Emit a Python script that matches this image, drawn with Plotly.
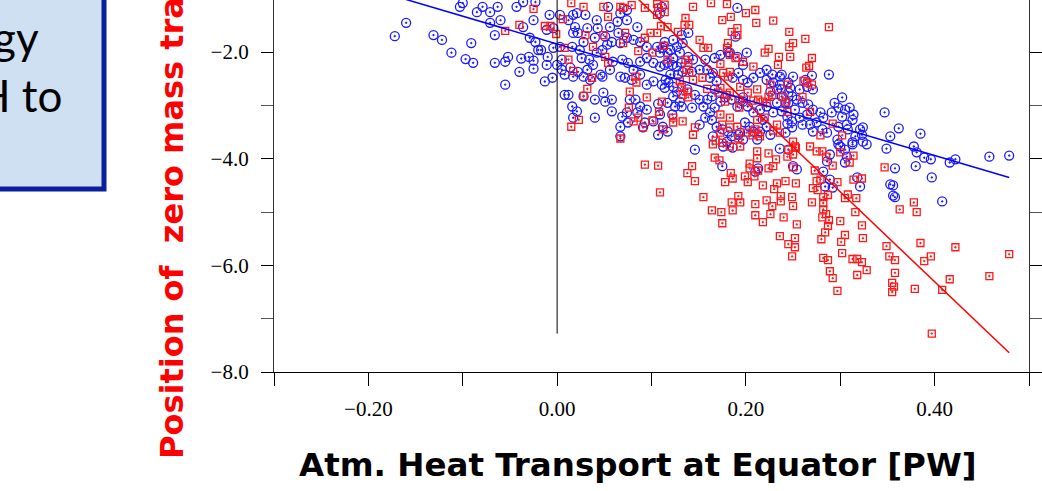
import plotly.graph_objects as go

# ---------------- data ----------------
blue_points = [
    (-0.172,-1.70),(-0.160,-1.45),(-0.131,-1.68),(-0.122,-1.77),(-0.112,-2.01),(-0.097,-2.13),(-0.089,-2.20),(-0.091,-1.83),(-0.103,-1.15),(-0.100,-1.08),
    (-0.085,-1.25),(-0.079,-1.15),(-0.071,-1.25),(-0.063,-1.15),(-0.066,-1.68),(-0.071,-1.45),(-0.060,-1.40),(-0.055,-2.61),(-0.066,-2.20),(-0.055,-2.18),
    (-0.052,-2.09),(-0.040,-2.37),(-0.038,-2.12),(-0.025,-2.31),(-0.025,-2.16),(-0.030,-2.09),(-0.020,-1.96),(-0.029,-1.73),(-0.023,-1.81),(-0.025,-1.40),
    (-0.036,-1.53),(-0.043,-1.15),(-0.036,-1.06),(-0.023,-1.06),
    (-0.008,-1.30),(0.003,-1.30),(0.012,-1.40),(0.017,-1.30),(0.021,-1.27),(0.030,-1.30),(0.042,-1.40),(0.054,-1.15),(0.067,-1.27),(0.074,-1.21),
    (0.085,-1.53),(0.074,-1.40),(0.064,-1.43),(-0.011,-1.58),(-0.004,-1.55),(0.019,-1.53),(0.017,-1.64),(0.022,-1.64),(0.032,-1.55),(0.043,-1.55),
    (0.056,-1.53),(0.065,-1.64),(0.051,-1.71),(0.040,-1.73),(0.028,-1.81),(-0.017,-1.96),(-0.010,-2.09),(-0.004,-1.92),(0.003,-1.90),(0.005,-2.14),
    (0.016,-1.90),(0.024,-1.96),(0.026,-2.11),(0.034,-2.14),(0.042,-2.01),(0.048,-1.96),(0.053,-1.86),(0.058,-1.81),(0.067,-1.83),(0.074,-1.73),
    (0.081,-1.77),(0.088,-1.81),(0.095,-1.90),(-0.011,-2.24),(0.000,-2.24),(0.005,-2.33),(0.014,-2.29),(0.022,-2.37),(0.032,-2.33),(0.038,-2.24),
    (0.046,-2.42),(0.056,-2.33),(0.059,-2.18),(0.069,-2.14),(0.075,-2.20),(0.081,-2.33),(0.088,-2.18),(0.095,-2.11),(0.102,-2.20),(0.109,-2.27),
    (0.117,-2.20),(0.109,-2.01),(0.117,-2.01),(0.106,-1.90),(-0.013,-2.55),(-0.005,-2.48),(0.008,-2.42),(0.017,-2.46),(0.028,-2.46),(0.035,-2.52),
    (0.048,-2.46),(0.067,-2.46),(0.072,-2.48),(0.079,-2.52),(0.088,-2.42),(0.095,-2.61),(0.102,-2.55),(0.111,-2.61),(0.115,-2.52),(0.008,-2.80),
    (0.012,-2.80),(0.028,-2.83),(0.040,-2.89),(0.049,-2.76),(0.051,-2.93),(0.058,-2.89),(0.083,-2.89),(0.088,-3.02),(0.016,-3.02),(0.021,-3.11),
    (0.017,-3.23),(0.058,-3.11),(0.069,-3.21),(0.074,-3.13),(0.075,-3.32),(0.085,-3.13),(0.067,-3.40),(0.040,-3.23),(0.093,-3.32),(0.102,-3.30),
    (0.109,-3.17),(0.107,-3.55),(0.112,-3.40),(0.067,-3.58),(0.095,-3.08),(0.107,-2.97),(0.077,-2.89),(0.091,-3.41),
    (0.111,-1.15),(0.109,-1.27),(0.139,-1.64),(0.132,-1.68),(0.123,-1.77),(0.114,-1.81),(0.112,-1.92),(0.120,-1.96),(0.127,-1.90),(0.133,-1.83),
    (0.130,-2.01),(0.123,-2.11),(0.114,-2.24),(0.122,-2.24),(0.127,-2.27),(0.132,-2.20),(0.139,-2.09),(0.144,-2.14),(0.151,-2.33),(0.143,-2.37),
    (0.133,-2.37),(0.128,-2.42),(0.120,-2.42),(0.118,-2.57),(0.123,-2.65),(0.114,-2.67),(0.127,-2.74),(0.138,-2.70),(0.146,-2.80),(0.151,-2.89),
    (0.123,-2.83),(0.130,-2.93),(0.117,-2.95),(0.125,-3.02),(0.132,-3.02),(0.143,-3.04),(0.155,-3.02),(0.159,-2.89),(0.164,-2.83),(0.167,-2.70),
    (0.169,-2.55),(0.162,-2.48),(0.159,-2.33),(0.165,-2.39),(0.157,-2.14),(0.167,-2.11),(0.173,-2.05),(0.181,-2.00),(0.191,-2.09),(0.201,-2.01),
    (0.197,-2.24),(0.192,-2.39),(0.186,-2.48),(0.197,-2.52),(0.202,-2.57),(0.208,-2.48),(0.215,-2.39),(0.222,-2.33),(0.228,-2.42),(0.236,-2.46),
    (0.229,-2.57),(0.233,-2.70),(0.226,-2.74),(0.238,-2.83),(0.245,-2.76),(0.242,-2.95),(0.233,-2.95),(0.222,-3.02),(0.215,-3.08),(0.208,-3.13),
    (0.202,-3.02),(0.197,-2.93),(0.191,-3.02),(0.185,-2.89),(0.178,-2.85),(0.173,-2.93),(0.167,-3.04),(0.162,-3.13),(0.157,-3.23),(0.164,-3.27),
    (0.169,-3.40),(0.175,-3.45),(0.181,-3.49),(0.192,-3.55),(0.199,-3.32),(0.204,-3.40),(0.208,-3.49),(0.215,-3.49),(0.222,-3.40),(0.226,-3.55),
    (0.212,-3.64),(0.197,-3.64),(0.229,-3.13),(0.218,-3.27),(0.151,-3.36),(0.165,-3.58),(0.117,-3.49),(0.122,-3.17),(0.191,-1.17),(0.189,-1.71),
    (0.197,-2.85),(0.146,-3.83),(0.175,-4.14),(0.180,-3.68),(0.176,-3.77),(0.186,-3.79),(0.185,-3.58),(0.194,-3.51),(0.210,-4.24),(0.213,-4.18),
    (0.236,-3.81),(0.245,-3.83),(0.250,-4.14),(0.254,-4.20),(0.183,-2.01),
    (0.288,-2.42),(0.250,-2.46),(0.238,-2.42),(0.270,-2.44),(0.263,-2.52),(0.271,-2.70),(0.265,-2.65),(0.257,-2.70),(0.247,-2.67),(0.238,-2.70),
    (0.249,-2.83),(0.254,-2.89),(0.245,-2.95),(0.252,-3.08),(0.238,-3.11),(0.244,-3.21),(0.249,-3.30),(0.257,-3.23),(0.265,-3.17),(0.266,-2.98),
    (0.271,-3.08),(0.279,-3.13),(0.282,-3.23),(0.275,-3.32),(0.268,-3.36),(0.271,-3.49),(0.281,-3.45),(0.286,-3.51),(0.291,-3.13),(0.294,-2.95),
    (0.302,-2.85),(0.298,-3.04),(0.305,-3.08),(0.310,-3.04),(0.314,-3.17),(0.313,-3.27),(0.307,-3.36),(0.302,-3.21),(0.308,-3.45),(0.321,-3.45),
    (0.324,-3.41),(0.323,-3.55),(0.316,-3.58),(0.313,-3.69),(0.324,-3.68),(0.328,-3.73),(0.297,-3.64),(0.298,-3.73),(0.347,-3.13),(0.362,-3.43),
    (0.353,-3.58),(0.300,-3.77),(0.305,-3.83),(0.313,-3.73),(0.289,-3.92),(0.286,-4.05),(0.282,-4.24),(0.289,-4.39),(0.292,-4.54),(0.305,-4.07),
    (0.307,-3.96),(0.318,-4.35),(0.321,-4.52),(0.353,-4.48),(0.284,-4.52),(0.298,-3.40),(0.260,-2.95),(0.260,-3.36),(0.244,-3.34),(0.249,-3.41),
    (0.242,-3.51),(0.245,-2.57),(0.222,-2.52),(0.236,-2.61),
    (0.385,-3.53),(0.349,-3.81),(0.378,-3.77),(0.381,-3.88),(0.389,-3.98),(0.396,-4.01),(0.416,-4.07),(0.422,-4.01),(0.458,-3.96),(0.479,-3.94),
    (0.358,-4.18),(0.380,-4.14),(0.397,-4.35),(0.356,-4.50),(0.356,-4.69),(0.358,-4.72),(0.408,-4.80),
]

red_points = [
    (-0.055,-1.60),(-0.040,-1.49),(-0.025,-1.19),(-0.013,-1.51),(-0.007,-1.51),(-0.001,-1.66),(0.006,-1.38),(0.008,-1.92),(0.012,-2.14),(0.017,-2.35),
    (0.015,-1.08),(0.028,-1.15),(0.030,-1.68),(0.038,-1.90),(0.037,-2.48),(0.032,-2.69),(0.028,-2.82),(0.023,-3.27),(0.015,-3.40),(0.051,-2.09),
    (0.054,-2.20),(0.049,-1.15),(0.054,-1.34),(0.049,-1.68),(0.067,-1.15),(0.070,-1.17),(0.079,-1.12),(0.072,-1.64),(0.070,-1.83),(0.083,-2.46),
    (0.084,-2.57),(0.077,-2.74),(0.076,-3.04),(0.086,-3.23),(0.081,-3.30),(0.101,-3.28),(0.067,-3.62),(0.095,-2.85),(0.093,-1.73),(0.099,-1.64),
    (0.106,-1.64),(0.086,-1.98),(0.101,-2.01),(0.093,-1.17),(0.106,-1.10),(0.107,-1.17),(0.114,-1.25),(0.106,-1.30),(0.110,-1.51),(0.117,-1.53),
    (0.113,-1.88),(0.117,-2.14),(0.091,-3.41),(0.112,-3.45),(0.108,-3.12),(0.093,-4.11),(0.107,-4.13),(0.109,-4.63),
    (0.114,-1.11),(0.144,-1.15),(0.163,-1.08),(0.180,-1.10),(0.184,-1.34),(0.200,-1.27),(0.210,-1.21),(0.211,-1.45),(0.175,-1.40),(0.136,-1.36),
    (0.135,-1.49),(0.140,-1.49),(0.128,-1.62),(0.151,-1.77),(0.160,-1.92),(0.181,-1.83),(0.180,-1.92),(0.191,-1.55),(0.191,-1.68),(0.185,-1.62),
    (0.183,-2.05),(0.189,-2.11),(0.173,-2.22),(0.183,-2.37),(0.181,-2.46),(0.176,-2.39),(0.208,-2.27),(0.224,-1.94),(0.220,-2.01),(0.235,-2.09),
    (0.234,-2.24),(0.246,-1.62),(0.246,-1.90),(0.136,-2.14),(0.139,-2.20),(0.137,-2.33),(0.140,-2.39),(0.144,-2.52),(0.154,-2.48),(0.130,-2.55),
    (0.132,-2.65),(0.159,-2.69),(0.173,-2.67),(0.183,-2.76),(0.194,-2.65),(0.180,-2.80),(0.171,-2.76),(0.192,-2.89),(0.202,-2.76),(0.212,-2.70),
    (0.213,-2.89),(0.222,-2.95),(0.208,-2.91),(0.220,-3.23),(0.212,-3.27),(0.111,-2.93),(0.123,-3.23),(0.123,-3.32),(0.133,-3.30),(0.146,-3.41),
    (0.144,-3.55),(0.173,-3.17),(0.175,-3.36),(0.183,-3.23),(0.183,-3.41),(0.191,-3.40),(0.173,-3.51),(0.201,-3.51),(0.210,-3.45),(0.215,-3.58),
    (0.233,-3.36),(0.244,-3.12),(0.138,-2.74),(0.139,-2.85),(0.197,-2.18),(0.244,-2.61),(0.226,-2.61),(0.155,-1.92),(0.228,-2.80),(0.224,-2.84),
    (0.218,-2.93),(0.229,-3.47),(0.193,-3.04),(0.178,-2.93),(0.229,-1.41),(0.133,-2.80),(0.143,-4.14),
    (0.250,-1.83),(0.263,-1.75),(0.288,-1.53),(0.247,-2.09),(0.270,-2.11),(0.267,-2.26),(0.264,-2.29),(0.261,-2.54),(0.265,-2.57),(0.270,-2.61),
    (0.239,-2.84),(0.242,-2.93),(0.260,-2.84),(0.268,-3.12),(0.292,-3.34),(0.279,-3.56),(0.302,-3.56),(0.250,-3.68),(0.252,-3.77),(0.268,-3.77),
    (0.236,-3.51),
    (0.165,-3.73),(0.168,-3.66),(0.175,-3.70),(0.183,-3.77),(0.194,-3.77),(0.192,-3.62),(0.207,-3.56),(0.213,-3.53),(0.167,-3.98),(0.172,-4.03),
    (0.184,-4.27),(0.186,-4.37),(0.178,-4.44),(0.212,-3.86),(0.212,-3.99),(0.224,-3.90),(0.232,-4.01),(0.229,-4.14),(0.224,-4.18),(0.204,-4.09),
    (0.204,-4.18),(0.199,-4.33),(0.202,-4.44),(0.209,-4.33),(0.213,-4.22),(0.138,-4.27),(0.146,-4.42),(0.155,-4.72),(0.164,-4.97),(0.174,-5.00),
    (0.175,-5.21),(0.185,-4.82),(0.192,-4.70),(0.194,-4.82),(0.186,-4.97),(0.210,-4.85),(0.210,-5.06),(0.218,-5.19),(0.222,-4.78),(0.228,-4.89),
    (0.226,-5.04),(0.218,-4.50),(0.230,-4.57),(0.233,-4.46),(0.242,-4.42),(0.253,-4.46),(0.237,-4.70),(0.237,-4.80),(0.249,-4.72),(0.250,-4.89),
    (0.240,-5.10),(0.254,-5.23),(0.236,-5.45),(0.245,-5.60),(0.252,-5.66),(0.252,-5.49),(0.249,-5.83),(0.250,-4.16),(0.253,-3.79),(0.244,-3.96),
    (0.245,-3.83),(0.250,-3.92),(0.275,-3.86),(0.281,-3.86),(0.285,-3.96),(0.292,-4.13),(0.273,-4.22),(0.275,-4.42),(0.279,-4.39),(0.271,-4.55),
    (0.270,-4.82),(0.276,-4.59),(0.282,-4.72),(0.282,-4.83),(0.282,-4.95),(0.281,-5.10),(0.287,-4.68),(0.285,-5.04),(0.288,-5.15),(0.287,-5.26),
    (0.284,-5.38),(0.280,-5.51),(0.300,-5.17),(0.305,-5.43),(0.301,-5.56),(0.302,-5.77),(0.282,-5.86),(0.287,-5.90),(0.289,-6.11),(0.292,-6.24),
    (0.297,-6.48),(0.297,-4.44),(0.308,-4.67),(0.305,-4.74),(0.317,-4.74),(0.316,-5.00),(0.314,-4.39),(0.323,-4.37),(0.300,-3.88),(0.310,-4.07),
    (0.314,-3.94),(0.323,-5.25),(0.324,-5.49),(0.313,-5.88),(0.318,-5.88),(0.323,-5.94),(0.328,-6.09),(0.318,-6.18),(0.347,-4.16),(0.349,-5.64),
    (0.352,-5.83),(0.378,-4.82),(0.381,-5.00),(0.363,-4.95),(0.385,-5.58),(0.422,-5.66),(0.396,-5.83),(0.389,-5.92),(0.416,-6.26),(0.408,-6.46),
    (0.379,-6.44),(0.397,-7.28),(0.458,-6.20),(0.479,-5.79),(0.358,-5.90),(0.358,-6.14),(0.355,-6.33),(0.357,-6.40),(0.355,-6.50),
]

blue_fit_x = [-0.172, 0.479]
blue_fit_y = [-0.95, -4.35]
red_fit_x = [-0.055, 0.479]
red_fit_y = [1.37, -7.64]
zero_line_x = [0.0, 0.0]
zero_line_y = [-7.28, 0.5]

x_range = [-0.30, 0.50]
y_range = [-8.0, -1.022]

x_title = "Atm. Heat Transport at Equator [PW]"
y_title = "Position of\u00a0\u00a0zero mass transport"
slide_lines = ["gy", "H to"]

# ---------------- figure ----------------
W, H = 1042, 491
ML, MR, MT, MB = 274, 13, 0, 119
PW, PH = W - ML - MR, H - MT - MB


def px_x(p):
    return (p - ML) / PW


def px_y(p):
    return (H - MB - p) / PH


fig = go.Figure()

fig.add_trace(go.Scatter(
    x=[p[0] for p in blue_points], y=[p[1] for p in blue_points],
    mode="markers",
    marker=dict(symbol="circle-open-dot", size=9, color="#1a1aff",
                line=dict(width=1.3, color="#1a1aff")),
    showlegend=False, cliponaxis=True))

fig.add_trace(go.Scatter(
    x=[p[0] for p in red_points], y=[p[1] for p in red_points],
    mode="markers",
    marker=dict(symbol="square-open-dot", size=7, color="#ff1a1a",
                line=dict(width=1.3, color="#ff1a1a")),
    showlegend=False, cliponaxis=True))

fig.add_trace(go.Scatter(x=zero_line_x, y=zero_line_y, mode="lines",
                         line=dict(color="black", width=1), showlegend=False))
fig.add_trace(go.Scatter(x=blue_fit_x, y=blue_fit_y, mode="lines",
                         line=dict(color="#0000ff", width=1.5), showlegend=False))
fig.add_trace(go.Scatter(x=red_fit_x, y=red_fit_y, mode="lines",
                         line=dict(color="#ff0000", width=1.5), showlegend=False))

tick_font = dict(family="Liberation Serif", size=21, color="black")

fig.update_xaxes(
    range=x_range, showgrid=False, zeroline=False,
    showline=True, linecolor="black", linewidth=1, mirror=False,
    ticks="outside", ticklen=13, tickwidth=1, tickcolor="black",
    tick0=0, dtick=0.2, tickformat=".2f", tickfont=tick_font,
    ticklabelstandoff=5,
    minor=dict(dtick=0.1, tick0=0, ticks="outside", ticklen=13, tickwidth=1,
               tickcolor="black", showgrid=False),
)
fig.update_yaxes(
    range=y_range, showgrid=False, zeroline=False,
    showline=True, linecolor="#333", linewidth=1.2, mirror="ticks",
    ticks="outside", ticklen=12, tickwidth=1, tickcolor="black",
    tick0=0, dtick=2, tickformat=".1f", tickfont=tick_font,
    ticklabelstandoff=8,
    minor=dict(dtick=1, tick0=0, ticks="outside", ticklen=12, tickwidth=1,
               tickcolor="#555", showgrid=False),
)

annotations = [
    dict(text=x_title, xref="paper", yref="paper", x=px_x(638), y=px_y(465),
         xanchor="center", yanchor="middle", showarrow=False,
         font=dict(family="DejaVu Sans", size=32.5, color="black", weight="bold")),
    dict(text=y_title, xref="paper", yref="paper", x=px_x(172), y=px_y(461),
         xanchor="center", yanchor="bottom", textangle=-90, showarrow=False,
         font=dict(family="DejaVu Sans", size=32, color="#ff0000", weight="bold")),
    dict(text=slide_lines[0], xref="paper", yref="paper", x=px_x(41), y=px_y(37),
         xanchor="right", yanchor="middle", showarrow=False,
         font=dict(family="Lato", size=44, color="black")),
    dict(text=slide_lines[1], xref="paper", yref="paper", x=px_x(64), y=px_y(95),
         xanchor="right", yanchor="middle", showarrow=False,
         font=dict(family="Lato", size=44, color="black")),
]

shapes = [
    dict(type="rect", xref="paper", yref="paper",
         x0=px_x(-20), x1=px_x(104), y0=px_y(189), y1=px_y(-20),
         line=dict(color="#0b1f9e", width=5), fillcolor="#d0e0f3", layer="below"),
]

fig.update_layout(
    width=W, height=H,
    margin=dict(l=ML, r=MR, t=MT, b=MB, pad=0),
    paper_bgcolor="white", plot_bgcolor="white",
    annotations=annotations, shapes=shapes,
    showlegend=False,
)

fig.write_html("out.html",
               config={"displayModeBar": False},
               post_script="document.body.style.margin='0';document.body.style.overflow='hidden';")
